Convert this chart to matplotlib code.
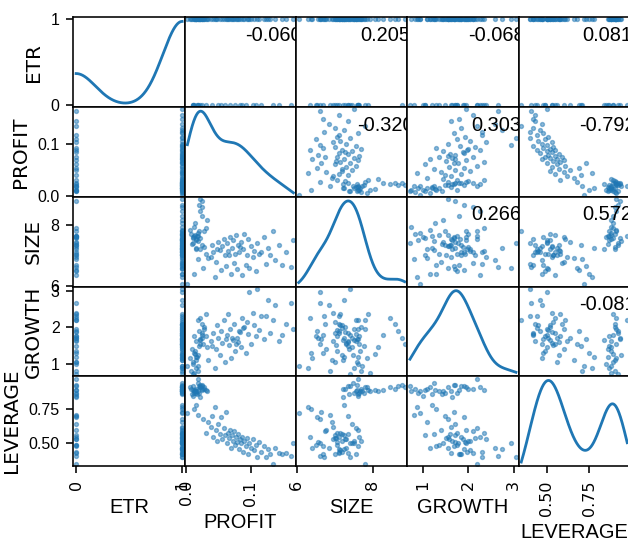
import numpy as np
import matplotlib
matplotlib.use("Agg")
import matplotlib.pyplot as plt
from matplotlib.ticker import MaxNLocator
from matplotlib import font_manager

# variables de la matriz de dispersion
nombres = ["ETR", "PROFIT", "SIZE", "GROWTH", "LEVERAGE"]

ETR = [1, 1, 1, 0, 1, 1, 1, 0, 0, 1,
       1, 1, 1, 0, 1, 1, 1, 1, 0, 1,
       1, 0, 0, 1, 1, 1, 1, 0, 1, 1,
       1, 1, 0, 1, 1, 1, 1, 0, 1, 1,
       1, 1, 0, 1, 0, 1, 1, 0, 1, 1,
       1, 1, 0, 1, 1, 1, 1, 0, 1, 1,
       1, 1, 0, 1, 0, 1, 1, 0, 1, 1,
       1, 1, 0, 1, 0, 1, 1, 0, 1, 1,
       1, 1, 0, 1, 0, 1, 1, 0, 1, 1, 0]

PROFIT = [0.022, 0.025, 0.020, 0.024, 0.021, 0.012, 0.015, 0.010, 0.017, 0.014,
          0.008, 0.020, 0.016, 0.011, 0.013, 0.009, 0.018, 0.006, 0.012, 0.024,
          0.028, 0.019, 0.031, 0.027, 0.022, 0.015, 0.033, 0.010, 0.025, 0.018,
          0.002, 0.012, 0.018, 0.026, 0.030, 0.034, 0.038, 0.040, 0.042, 0.044,
          0.046, 0.048, 0.050, 0.052, 0.054, 0.056, 0.058, 0.060, 0.062, 0.063,
          0.065, 0.066, 0.068, 0.070, 0.071, 0.072, 0.074, 0.075, 0.077, 0.078,
          0.080, 0.082, 0.084, 0.085, 0.087, 0.088, 0.090, 0.092, 0.094, 0.096,
          0.098, 0.100, 0.103, 0.105, 0.108, 0.110, 0.113, 0.116, 0.120, 0.123,
          0.126, 0.130, 0.134, 0.138, 0.143, 0.148, 0.155, 0.162, 0.166, 0.015, 0.022]

SIZE = [8.45, 8.58, 8.66, 8.78, 8.84, 7.92, 7.50, 7.58, 7.62, 7.66,
        7.70, 7.78, 7.55, 7.60, 8.05, 7.38, 7.72, 7.84, 7.64, 7.35,
        7.28, 7.62, 7.88, 7.80, 7.58, 7.22, 8.15, 7.40, 8.28, 7.48,
        6.05, 6.38, 6.88, 6.60, 7.05, 6.92, 6.95, 7.35, 7.10, 6.30,
        6.78, 7.20, 7.45, 7.18, 6.52, 7.30, 7.55, 7.00, 6.65, 7.40,
        7.15, 7.02, 7.60, 6.40, 7.25, 7.50, 6.75, 7.05, 7.65, 6.55,
        7.35, 7.10, 7.28, 7.45, 6.35, 7.20, 7.70, 6.70, 7.00, 7.55,
        6.60, 7.30, 6.95, 7.15, 6.50, 7.40, 7.05, 7.12, 7.60, 6.72,
        7.25, 7.00, 7.80, 6.84, 7.35, 6.70, 7.10, 6.62, 7.50, 7.25, 7.22]

GROWTH = [2.25, 2.10, 1.90, 1.70, 1.55, 0.75, 0.90, 1.05, 1.20, 1.35,
          0.82, 1.50, 1.62, 1.00, 1.28, 1.42, 0.95, 1.15, 1.75, 1.85,
          2.00, 2.20, 2.35, 1.95, 1.68, 1.10, 1.45, 0.72, 1.80, 1.25,
          0.95, 1.30, 0.80, 1.55, 1.75, 1.10, 1.62, 1.48, 1.85, 0.88,
          1.40, 2.05, 1.70, 1.25, 1.90, 1.58, 2.20, 1.05, 1.68, 1.78,
          2.35, 1.52, 1.95, 1.15, 1.72, 1.65, 2.10, 1.35, 1.55, 1.72,
          1.60, 1.90, 1.88, 1.45, 2.25, 1.98, 2.00, 1.30, 2.15, 1.82,
          2.95, 1.55, 2.40, 2.05, 1.75, 3.05, 1.92, 2.30, 1.68, 2.30,
          2.75, 1.85, 2.20, 2.60, 1.62, 1.80, 2.10, 2.65, 1.95, 1.20, 1.65]

LEVERAGE = [0.91, 0.90, 0.92, 0.93, 0.91, 0.88, 0.87, 0.89, 0.86, 0.88,
            0.90, 0.87, 0.88, 0.85, 0.89, 0.86, 0.88, 0.91, 0.87, 0.92,
            0.90, 0.975, 0.89, 0.91, 0.93, 0.90, 0.88, 0.92, 0.89, 0.94,
            0.72, 0.75, 0.71, 0.68, 0.58, 0.66, 0.62, 0.70, 0.55, 0.77,
            0.60, 0.52, 0.64, 0.57, 0.69, 0.53, 0.61, 0.56, 0.73, 0.50,
            0.58, 0.54, 0.60, 0.47, 0.56, 0.52, 0.59, 0.49, 0.55, 0.51,
            0.57, 0.46, 0.53, 0.50, 0.55, 0.44, 0.52, 0.48, 0.54, 0.42,
            0.50, 0.47, 0.53, 0.45, 0.49, 0.40, 0.51, 0.44, 0.48, 0.40,
            0.46, 0.42, 0.35, 0.47, 0.43, 0.42, 0.43, 0.41, 0.50, 0.78, 0.84]

# coeficientes de correlacion del triangulo superior (fila por fila)
correlaciones = [-0.060, 0.205, -0.068, 0.081,
                 -0.320, 0.303, -0.792,
                 0.266, 0.572,
                 -0.081]

plt.rcParams['font.family'] = 'DejaVu Sans'
plt.rcParams['axes.linewidth'] = 1.15
plt.rcParams['xtick.major.width'] = 1.15
plt.rcParams['ytick.major.width'] = 1.15
plt.rcParams['xtick.major.size'] = 5
plt.rcParams['ytick.major.size'] = 5
plt.rcParams['xtick.major.pad'] = 5
plt.rcParams['ytick.major.pad'] = 5
plt.rcParams['axes.labelpad'] = 5.5

# letra angosta para los textos horizontales
fuentes = {f.name for f in font_manager.fontManager.ttflist}
angosta = 'DejaVu Sans'
for nombre in ['Liberation Sans Narrow', 'DejaVu Sans Condensed', 'Liberation Sans']:
    if nombre in fuentes:
        angosta = nombre
        break

datos = [np.array(v, dtype=float) for v in [ETR, PROFIT, SIZE, GROWTH, LEVERAGE]]
n = len(datos)

# limites con 5% de margen como en pandas
limites = []
for v in datos:
    d = (v.max() - v.min()) * 0.05 / 2
    limites.append((v.min() - d, v.max() + d))

pasos = [1, 2, 2.5, 5, 10]

fig, axes = plt.subplots(n, n, figsize=(6.28, 5.42), dpi=100)
fig.subplots_adjust(left=0.117, right=1.003, bottom=0.140, top=0.968, wspace=0, hspace=0)

for i in range(n):
    for j in range(n):
        ax = axes[i, j]
        if i == j:
            # densidad kde gaussiana (ancho de banda de Scott)
            v = datos[i]
            xs = np.linspace(v.min(), v.max(), 1000)
            h = v.std(ddof=1) * len(v) ** (-1 / 5)
            dens = np.exp(-0.5 * ((xs[:, None] - v[None, :]) / h) ** 2).sum(axis=1)
            dens = dens / (len(v) * h * np.sqrt(2 * np.pi))
            ax.plot(xs, dens, color='C0', lw=2.0)
        else:
            ax.scatter(datos[j], datos[i], marker='.', s=32, alpha=0.5, color='C0')
            ax.set_ylim(limites[i])
        ax.set_xlim(limites[j])
        ax.xaxis.set_major_locator(MaxNLocator(2, steps=pasos))
        ax.yaxis.set_major_locator(MaxNLocator(2, steps=pasos))

        if j == 0:
            ax.set_ylabel(nombres[i], fontsize=14.4)
        else:
            ax.yaxis.set_visible(False)
        if i == n - 1:
            ax.set_xlabel(nombres[j], fontsize=14.4, family=angosta)
            plt.setp(ax.get_xticklabels(), fontsize=11.5, rotation=90)
        else:
            ax.xaxis.set_visible(False)

# marcas del eje y de la primera celda segun la escala de ETR
lo, hi = limites[0]
locs = MaxNLocator(2, steps=pasos).tick_values(lo, hi)
locs = locs[(locs >= lo) & (locs <= hi)]
y0, y1 = axes[0, 0].get_ylim()
axes[0, 0].set_yticks((locs - lo) / (hi - lo) * (y1 - y0) + y0)
axes[0, 0].set_yticklabels([str(int(round(t))) for t in locs])
axes[0, 0].set_ylim(y0, y1)

for i in range(n):
    plt.setp(axes[i, 0].get_yticklabels(), fontsize=11.5, family=angosta)

# coeficientes en las celdas de arriba
k = 0
for i in range(n):
    for j in range(i + 1, n):
        axes[i, j].annotate('%.3f' % correlaciones[k], (0.8, 0.8), xycoords='axes fraction',
                            ha='center', va='center', fontsize=14.4, family=angosta)
        k += 1

fig.savefig('out.png', dpi=100)
